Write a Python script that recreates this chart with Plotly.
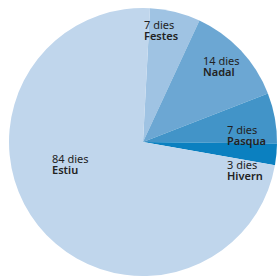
import plotly.graph_objects as go

categories = ["Festes", "Nadal", "Pasqua", "Hivern", "Estiu"]
days = [7, 14, 7, 3, 84]
colors = ["#9fc3e3", "#6ca7d3", "#4294c8", "#0b80c0", "#c0d6ec"]

# label anchor points: left edge and first-line baseline (pixels), left-aligned two-line labels
label_pos = {
    "Festes": (144, 27),
    "Nadal": (203, 62),
    "Pasqua": (227, 131),
    "Hivern": (227, 166),
    "Estiu": (52, 160),
}

W, H = 278, 279

fig = go.Figure(go.Pie(
    labels=categories,
    values=days,
    sort=False,
    direction="clockwise",
    rotation=3,
    marker=dict(colors=colors, line=dict(width=0)),
    textinfo="none",
    hoverinfo="label+value",
    showlegend=False,
    domain=dict(x=[9 / W, 277 / W], y=[1 - 276 / H, 1 - 8 / H]),
))

txt_color = "#222222"
fs = 11
for cat, val in zip(categories, days):
    px, py = label_pos[cat]
    text = (f'<span style="font-size:{fs}px">{val} dies</span><br>'
            f'<span style="font-size:{fs}px;font-weight:600">{cat}</span>')
    fig.add_annotation(x=(px - 1) / W, y=1 - (py - 10.5) / H, xref="paper", yref="paper",
                       text=text, showarrow=False, xanchor="left", yanchor="top", align="left",
                       font=dict(family="Noto Sans", size=8.6, color=txt_color), borderpad=0)

fig.update_layout(width=W, height=H, margin=dict(l=0, r=0, t=0, b=0),
                  paper_bgcolor="white", plot_bgcolor="white")
fig.write_html("out.html", config={"displayModeBar": False},
               post_script="document.body.style.margin='0';document.body.style.overflow='hidden';")
